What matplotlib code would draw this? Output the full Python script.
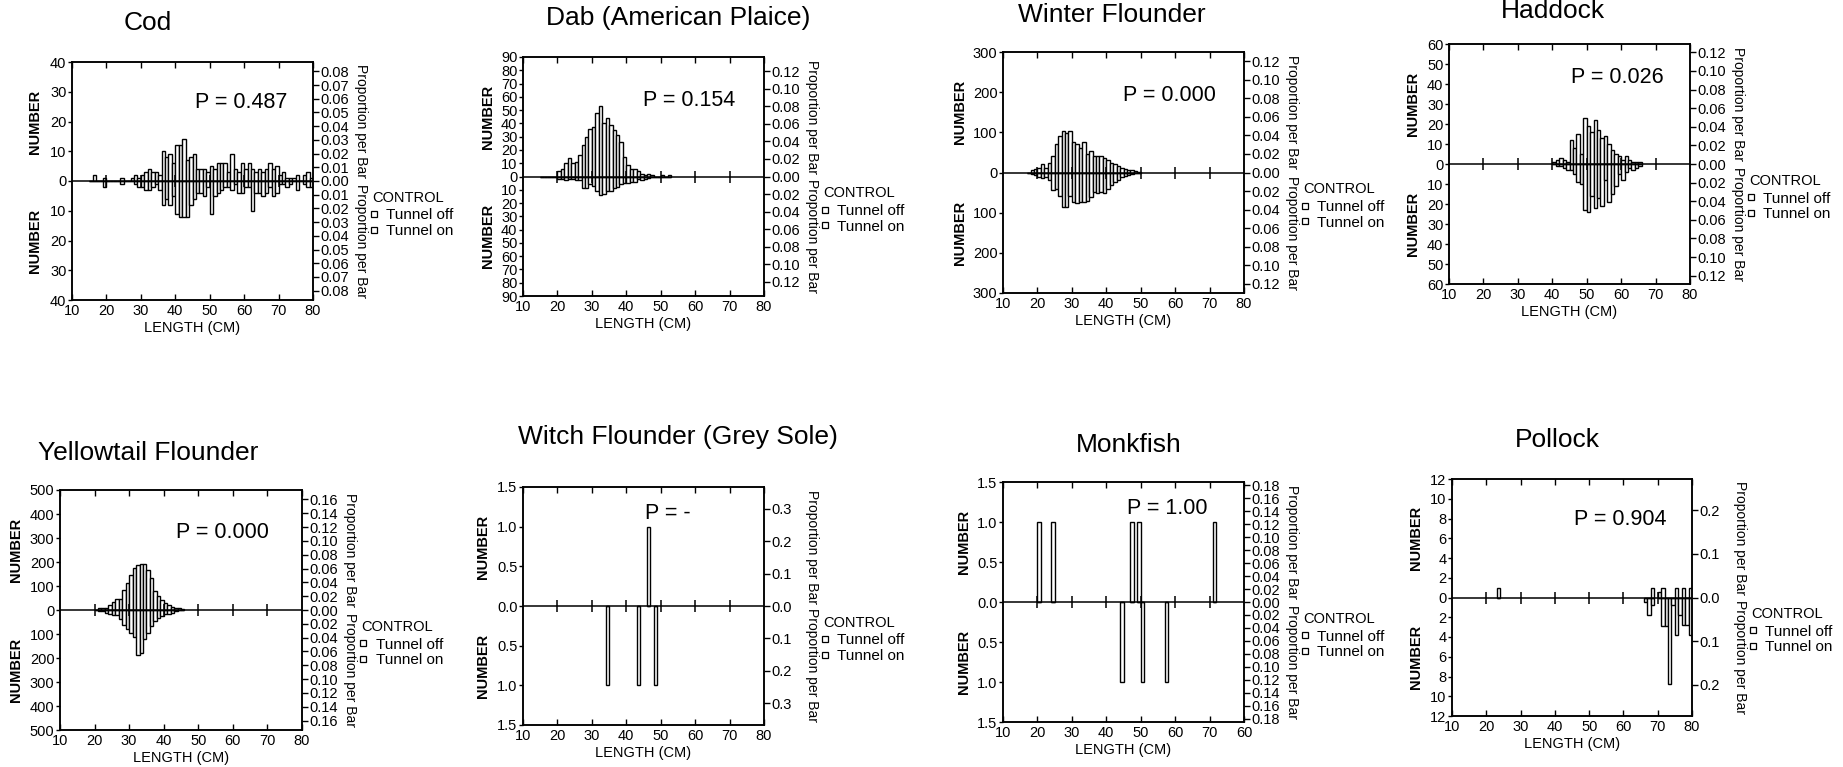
"""
Length-frequency comparison, tunnel off (up) vs tunnel on (down), 8 species.
"""
import matplotlib
matplotlib.use("Agg")
import matplotlib.pyplot as plt
from matplotlib.lines import Line2D
from matplotlib.ticker import FixedLocator, FuncFormatter

plt.rcParams['font.family'] = ['Liberation Sans', 'DejaVu Sans']

# ----------------------------------------------------------------------
# DATA (1 cm length bins, left edge in cm)
# ----------------------------------------------------------------------
cod_len = list(range(15, 80))
cod_off = [0, 2, 0, 0, 1, 0, 0, 0, 0, 1,
           0, 0, 1, 2, 1, 2, 3, 4, 3, 3,
           2, 10, 8, 9, 6, 12, 12, 14, 7, 8,
           9, 4, 4, 4, 3, 5, 4, 6, 6, 6,
           3, 9, 4, 3, 6, 4, 6, 4, 3, 4,
           3, 4, 6, 4, 5, 2, 3, 1, 1, 1,
           2, 0, 2, 3, 1]
cod_on = [0, 0, 0, 0, 2, 0, 0, 0, 0, 1,
          0, 0, 0, 1, 2, 2, 3, 3, 2, 1,
          3, 8, 6, 8, 5, 11, 12, 12, 12, 8,
          6, 4, 4, 5, 2, 11, 5, 4, 3, 2,
          2, 3, 1, 4, 4, 2, 2, 10, 4, 4,
          5, 4, 2, 5, 4, 1, 1, 2, 1, 0,
          3, 0, 1, 2, 2]

dab_len = list(range(15, 53))
dab_off = [0, 0, 0, 0, 0, 4, 6, 10, 14, 10,
           11, 16, 24, 30, 36, 37, 48, 53, 40, 44,
           39, 35, 31, 26, 15, 9, 6, 6, 4, 2,
           1, 2, 1, 0, 0, 1, 0, 1]
dab_on = [0, 0, 0, 0, 0, 2, 2, 3, 2, 2,
          3, 3, 9, 9, 6, 7, 11, 14, 13, 11,
          11, 9, 8, 6, 5, 5, 4, 4, 2, 3,
          2, 1, 0, 0, 0, 0, 0, 0]

winter_len = list(range(17, 50))
winter_off = [0, 5, 8, 11, 20, 11, 24, 40, 70, 92,
              103, 98, 103, 75, 70, 60, 77, 45, 53, 42,
              40, 40, 36, 32, 24, 20, 15, 11, 8, 7,
              5, 3, 1]
winter_on = [0, 3, 6, 10, 14, 10, 19, 44, 42, 59,
             86, 85, 59, 74, 75, 74, 74, 71, 61, 48,
             51, 48, 52, 40, 31, 23, 19, 10, 8, 6,
             3, 2, 0]

haddock_len = list(range(40, 66))
haddock_off = [1, 2, 3, 2, 1, 12, 8, 15, 5, 23,
               19, 16, 22, 17, 13, 14, 10, 7, 5, 4,
               2, 4, 2, 1, 1, 1]
haddock_on = [0, 1, 1, 2, 3, 3, 5, 9, 10, 23,
              24, 16, 22, 17, 21, 8, 19, 15, 11, 5,
              8, 4, 2, 3, 2, 1]

yellow_len = list(range(20, 46))
yellow_off = [0, 7, 7, 10, 20, 33, 44, 47, 83, 114,
              144, 176, 187, 193, 193, 167, 132, 79, 58, 42,
              31, 21, 14, 10, 7, 4]
yellow_on = [0, 4, 6, 11, 18, 22, 22, 39, 64, 78,
             94, 111, 189, 178, 122, 94, 67, 46, 32, 25,
             18, 15, 11, 4, 0, 0]

witch_len = [34, 43, 46, 48]
witch_off = [0, 0, 1, 0]
witch_on = [1, 1, 0, 1]

monk_len = [20, 24, 44, 47, 49, 50, 57, 71]
monk_off = [1, 1, 0, 1, 1, 0, 0, 1]
monk_on = [0, 0, 1, 0, 0, 1, 1, 0]

pollock_len = [23, 66, 67, 68, 70, 71, 72, 73, 74, 75, 76, 77, 78, 79]
pollock_off = [1, 0, 0, 1, 0.6, 1, 0, 0, 0, 1, 0, 1, 0, 1]
pollock_on = [0, 0.5, 1.8, 0.8, 0, 2.9, 2.9, 8.8, 0.8, 3.8, 1.8, 2.8, 2.8, 3.8]

x_ticks = [10, 20, 30, 40, 50, 60, 70, 80]
x_labels = ["10", "20", "30", "40", "50", "60", "70", "80"]
monk_x_labels = ["10", "20", "30", "40", "50", "60", "70", "60"]

# ----------------------------------------------------------------------
# LAYOUT  (box = left, top, right, bottom in pixels of the 1843x767 canvas)
# ----------------------------------------------------------------------
W, H = 1843, 767
PANELS = [
    dict(title="Cod", tpos=(148, 23), box=(72, 62, 313, 300),
         x=cod_len, off=cod_off, on=cod_on,
         ymax=40, ystep=10, yfmt="{:.0f}", pmax=0.0868, pstep=0.01, ptop=0.08,
         pfmt="{:.2f}", p="P = 0.487", ppos=(0.70, 0.83), nx=-0.155),
    dict(title="Dab (American Plaice)", tpos=(678, 18), box=(523, 57, 764, 296),
         x=dab_len, off=dab_off, on=dab_on,
         ymax=90, ystep=10, yfmt="{:.0f}", pmax=0.1365, pstep=0.02, ptop=0.12,
         pfmt="{:.2f}", p="P = 0.154", ppos=(0.69, 0.82), nx=-0.145),
    dict(title="Winter Flounder", tpos=(1112, 15), box=(1003, 52, 1244, 293),
         x=winter_len, off=winter_off, on=winter_on,
         ymax=300, ystep=100, yfmt="{:.0f}", pmax=0.130, pstep=0.02, ptop=0.12,
         pfmt="{:.2f}", p="P = 0.000", ppos=(0.69, 0.82), nx=-0.18),
    dict(title="Haddock", tpos=(1553, 11), box=(1449, 44, 1690, 284),
         x=haddock_len, off=haddock_off, on=haddock_on,
         ymax=60, ystep=10, yfmt="{:.0f}", pmax=0.129, pstep=0.02, ptop=0.12,
         pfmt="{:.2f}", p="P = 0.026", ppos=(0.70, 0.86), nx=-0.15),
    dict(title="Yellowtail Flounder", tpos=(148, 453), box=(60, 490, 302, 730),
         x=yellow_len, off=yellow_off, on=yellow_on,
         ymax=500, ystep=100, yfmt="{:.0f}", pmax=0.1736, pstep=0.02, ptop=0.16,
         pfmt="{:.2f}", p="P = 0.000", ppos=(0.67, 0.825), nx=-0.18),
    dict(title="Witch Flounder (Grey Sole)", tpos=(678, 437), box=(523, 487, 764, 725),
         x=witch_len, off=witch_off, on=witch_on,
         ymax=1.5, ystep=0.5, yfmt="{:.1f}", pmax=0.367, pstep=0.1, ptop=0.3,
         pfmt="{:.1f}", p="P = -", ppos=(0.60, 0.89), nx=-0.165),
    dict(title="Monkfish", tpos=(1129, 445), box=(1003, 482, 1244, 722),
         x=monk_len, off=monk_off, on=monk_on,
         ymax=1.5, ystep=0.5, yfmt="{:.1f}", pmax=0.185, pstep=0.02, ptop=0.18,
         pfmt="{:.2f}", p="P = 1.00", ppos=(0.68, 0.89), nx=-0.16,
         xlabels=monk_x_labels),
    dict(title="Pollock", tpos=(1557, 440), box=(1452, 479, 1692, 716),
         x=pollock_len, off=pollock_off, on=pollock_on,
         ymax=12, ystep=2, yfmt="{:.0f}", pmax=0.271, pstep=0.1, ptop=0.2,
         pfmt="{:.1f}", p="P = 0.904", ppos=(0.70, 0.83), nx=-0.15),
]

TICK_FS = 10.5
LAB_FS = 10.5


def _sym_ticks(top, step):
    n = int(round(top / step))
    return [i * step for i in range(-n, n + 1)]


def draw_panel(fig, c):
    l, t, r, b = c["box"]
    ax = fig.add_axes([l / W, 1 - b / H, (r - l) / W, (b - t) / H])

    bar_kw = dict(width=1.0, align="edge", facecolor="white",
                  edgecolor="black", linewidth=1.0)
    ax.bar(c["x"], [-v for v in c["on"]], **bar_kw)
    ax.bar(c["x"], c["off"], **bar_kw)
    ax.axhline(0, color="black", lw=1.1, zorder=5)
    ax.plot(x_ticks[1:-1], [0] * (len(x_ticks) - 2), ls="none", marker="|",
            ms=8, mew=1.1, color="black", zorder=6)

    ax.set_xlim(10, 80)
    ax.set_ylim(-c["ymax"], c["ymax"])
    ax.xaxis.set_major_locator(FixedLocator(x_ticks))
    ax.set_xticklabels(c.get("xlabels", x_labels))
    ax.yaxis.set_major_locator(FixedLocator(_sym_ticks(c["ymax"], c["ystep"])))
    ax.yaxis.set_major_formatter(FuncFormatter(lambda v, _p, f=c["yfmt"]: f.format(abs(v))))
    ax.tick_params(axis="x", direction="in", top=True, length=4, width=1.0,
                   labelsize=TICK_FS, pad=3)
    ax.tick_params(axis="y", direction="out", length=3, width=1.0,
                   labelsize=TICK_FS, pad=1)
    for s in ax.spines.values():
        s.set_linewidth(1.1)

    ax2 = ax.twinx()
    ax2.set_ylim(-c["pmax"], c["pmax"])
    ax2.yaxis.set_major_locator(FixedLocator(_sym_ticks(c["ptop"], c["pstep"])))
    ax2.yaxis.set_major_formatter(FuncFormatter(lambda v, _p, f=c["pfmt"]: f.format(abs(v))))
    ax2.tick_params(axis="y", direction="out", length=4, width=1.0,
                    labelsize=TICK_FS, pad=1)
    for s in ax2.spines.values():
        s.set_linewidth(1.1)

    ax.set_xlabel("LENGTH (CM)", fontsize=LAB_FS, labelpad=2)
    for yy in (0.75, 0.25):
        ax.text(c["nx"], yy, "NUMBER", transform=ax.transAxes, rotation=90,
                ha="center", va="center", fontsize=LAB_FS, fontweight="bold")
        ax.text(1.2, yy, "Proportion per Bar", transform=ax.transAxes,
                rotation=270, ha="center", va="center", fontsize=10)

    ax.text(c["ppos"][0], c["ppos"][1], c["p"], transform=ax.transAxes,
            ha="center", va="center", fontsize=15.5)

    ax.text(1.245, 0.43, "CONTROL", transform=ax.transAxes,
            ha="left", va="center", fontsize=LAB_FS)
    key = dict(marker="s", ls="none", ms=4.5, mfc="white", mec="black", mew=0.9)
    ax.legend([Line2D([], [], **key), Line2D([], [], **key)],
              ["Tunnel off", "Tunnel on"], loc="upper left",
              bbox_to_anchor=(1.235, 0.385), frameon=False, fontsize=11,
              handlelength=0.6, handletextpad=0.5, labelspacing=0.1,
              borderpad=0, borderaxespad=0)

    fig.text(c["tpos"][0] / W, 1 - c["tpos"][1] / H, c["title"],
             ha="center", va="center", fontsize=19)


fig = plt.figure(figsize=(W / 100, H / 100), dpi=100)
for cfg in PANELS:
    draw_panel(fig, cfg)
fig.savefig("out.png", dpi=100, facecolor="white")
